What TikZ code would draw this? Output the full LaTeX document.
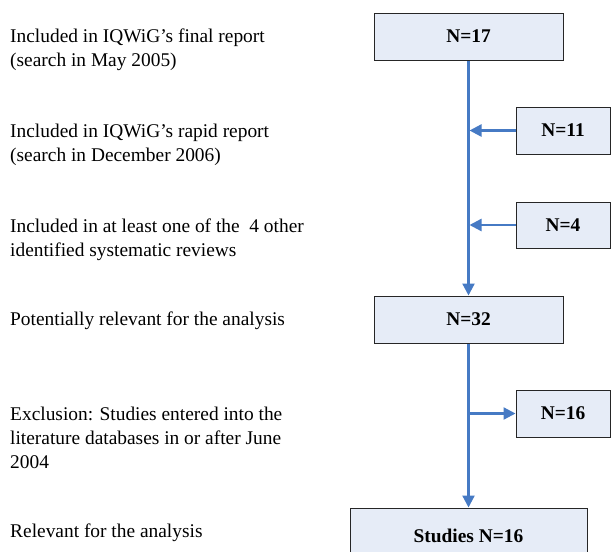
\documentclass[tikz,border=0pt]{standalone}
\usepackage{fontspec}
\setmainfont{Liberation Serif}
\usetikzlibrary{arrows.meta}
\definecolor{boxfill}{RGB}{230,236,247}
\definecolor{arrblue}{RGB}{70,122,196}
\begin{document}
\begin{tikzpicture}[x=1pt,y=1pt,
  box/.style={draw=black!85, line width=1pt, fill=boxfill, inner sep=0pt,
    font=\fontsize{19.4}{24}\selectfont\bfseries},
  lbl/.style={anchor=north west, inner sep=0pt, align=left,
    font=\fontsize{19.4}{24}\selectfont},
  conn/.style={draw=arrblue, line width=2.3pt},
  arr/.style={conn, -{Triangle[length=12pt,width=12pt]}}]
\useasboundingbox (0,0) rectangle (611,-552);
\clip (0,0) rectangle (611,-552);
\fill[white] (0,0) rectangle (611,-552);
% boxes
\node[box, minimum width=189pt, minimum height=47pt] (n17) at (468.5,-36.5) {N=17};
\node[box, minimum width=94pt, minimum height=47pt] (n11) at (563,-130.5) {N=11};
\node[box, minimum width=94pt, minimum height=46pt] (n4) at (563,-225) {N=4};
\node[box, minimum width=189pt, minimum height=47pt] (n32) at (468.5,-319.5) {N=32};
\node[box, minimum width=94pt, minimum height=47pt] (n16) at (563,-413.5) {N=16};
\node[box, minimum width=237pt, minimum height=60pt, text depth=20pt, text height=28pt] (st) at (468.5,-538) {Studies N=16};
% labels
\node[lbl] (t1) at (10,-28.7) {Included in IQWiG’s final report\\(search in May 2005)};
\node[lbl] (t2) at (10,-123.7) {Included in IQWiG’s rapid report\\(search in December 2006)};
\node[lbl] (t3) at (10,-218.7) {Included in at least one of the\ \ 4 other\\identified systematic reviews};
\node[lbl] (t4) at (10,-311.7) {Potentially relevant for the analysis};
\node[lbl] (t5) at (10,-406.7) {Exclusion: Studies entered into the\\literature databases in or after June\\2004};
\node[lbl] (t6) at (10,-523.7) {Relevant for the analysis};
% connectors
\draw[arr] (n17.south) -- (n32.north);
\draw[arr] (n11.west) -- ([xshift=1pt]n11.west -| n17.south);
\draw[arr] (n4.west) -- ([xshift=1pt]n4.west -| n17.south);
\draw[arr] (n32.south) -- (st.north);
\coordinate (br) at (n16.west -| n32.south);
\draw[arr] (br) -- (n16.west);
\end{tikzpicture}
\end{document}
